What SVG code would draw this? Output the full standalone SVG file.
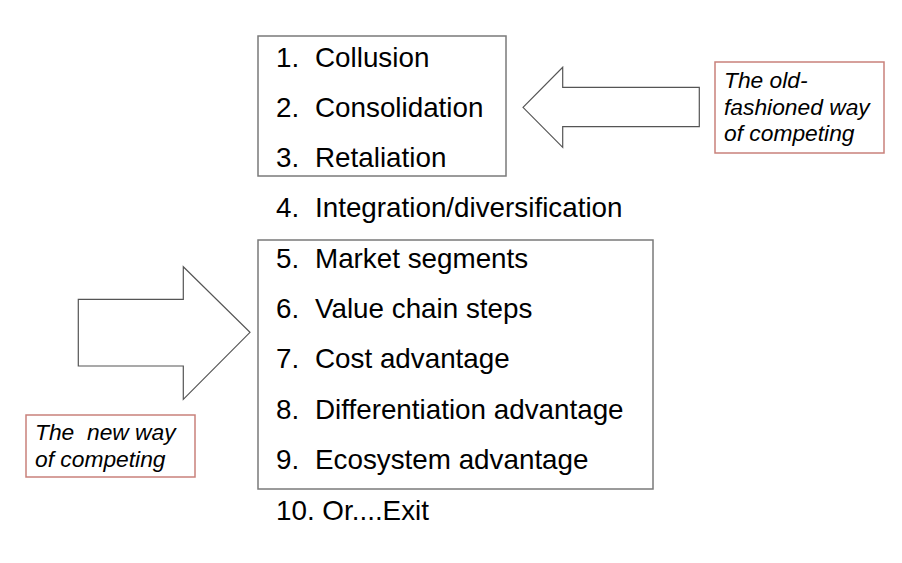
<svg xmlns="http://www.w3.org/2000/svg" width="902" height="563" viewBox="0 0 902 563">
<style>
.box{fill:none;stroke:#7a7a7a;stroke-width:1.5}
.item{font-family:"Liberation Sans",Arial,sans-serif;font-size:27.8px;fill:#000}
.arrow{fill:#fff;stroke:#555;stroke-width:1.2;stroke-linejoin:miter}
.lbox{fill:#fff;stroke:#c9817b;stroke-width:1.5}
.lbl{font-family:"Liberation Sans",Arial,sans-serif;font-size:22.8px;font-style:italic;fill:#000}
</style>
<rect width="902" height="563" fill="#fff"/>
<g id="old-group">
<rect class="box" x="258" y="36" width="248" height="140"/>
<text class="item" x="276" y="66.5">1.</text><text class="item" x="315" y="66.5">Collusion</text>
<text class="item" x="276" y="116.8">2.</text><text class="item" x="315" y="116.8">Consolidation</text>
<text class="item" x="276" y="167">3.</text><text class="item" x="315" y="167">Retaliation</text>
</g>
<g id="item4">
<text class="item" x="276" y="217.4">4.</text><text class="item" x="315" y="217.4">Integration/diversification</text>
</g>
<g id="new-group">
<rect class="box" x="258" y="240" width="395" height="249"/>
<text class="item" x="276" y="267.6">5.</text><text class="item" x="315" y="267.6">Market segments</text>
<text class="item" x="276" y="318">6.</text><text class="item" x="315" y="318">Value chain steps</text>
<text class="item" x="276" y="368.3">7.</text><text class="item" x="315" y="368.3">Cost advantage</text>
<text class="item" x="276" y="418.6">8.</text><text class="item" x="315" y="418.6">Differentiation advantage</text>
<text class="item" x="276" y="469">9.</text><text class="item" x="315" y="469">Ecosystem advantage</text>
</g>
<g id="item10">
<text class="item" x="276" y="519.6">10. Or....Exit</text>
</g>
<g id="connectors">
<polygon class="arrow" points="523,107.3 562.7,67.3 562.7,87.3 699.3,87.3 699.3,126.7 562.7,126.7 562.7,147.3"/>
<polygon class="arrow" points="78.3,299.3 183.3,299.3 183.3,266.7 250,332.3 183.3,399.3 183.3,366 78.3,366"/>
</g>
<g id="label-old">
<rect class="lbox" x="715" y="62" width="169" height="91"/>
<text class="lbl" x="724" y="88">The old-</text>
<text class="lbl" x="724" y="114.5">fashioned way</text>
<text class="lbl" x="724" y="141">of competing</text>
</g>
<g id="label-new">
<rect class="lbox" x="26" y="415" width="169" height="62"/>
<text class="lbl" x="35" y="440" xml:space="preserve">The  new way</text>
<text class="lbl" x="35" y="466.5">of competing</text>
</g>
</svg>
